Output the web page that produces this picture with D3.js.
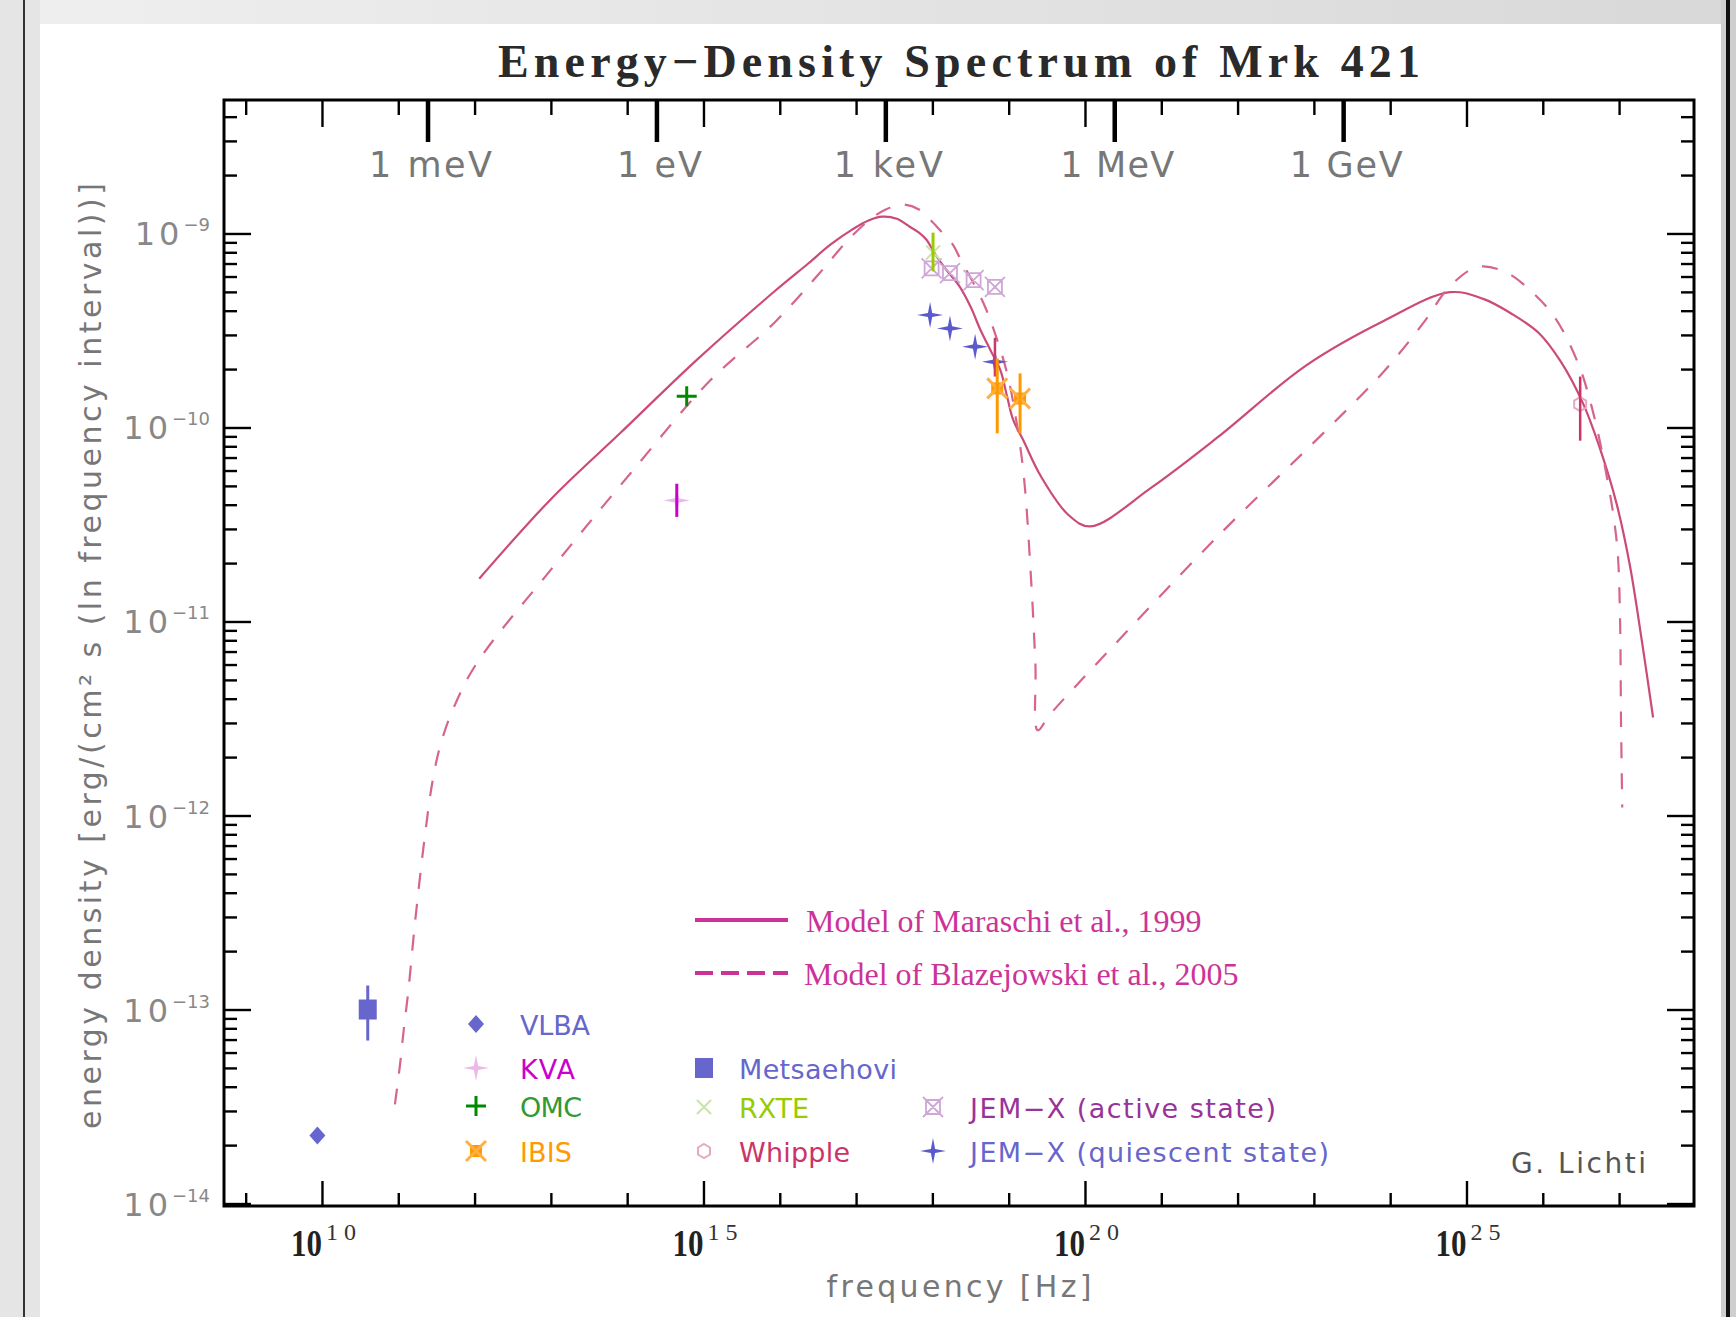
<!DOCTYPE html>
<html>
<head>
<meta charset="utf-8">
<script src="https://cdn.jsdelivr.net/npm/d3@7"></script>
<style>
  html, body { margin: 0; padding: 0; background: #fff; }
  svg { display: block; }
</style>
</head>
<body>
<svg id="chart" width="1736" height="1317"></svg>
<script>
// ---------------- data ----------------
// Model of Maraschi et al. (1999): frequency [Hz], energy density [erg/(cm^2 s)]
const maraschiNu = [1.15e12, 1.00e13, 8.05e13, 8.18e14, 8.63e15, 2.36e16, 4.60e16, 8.97e16, 1.48e17, 2.21e17,
  3.42e17, 5.11e17, 6.67e17, 8.43e17, 1.03e18, 1.26e18, 1.54e18, 2.29e18, 3.16e18, 4.27e18, 5.75e18, 7.76e18,
  9.55e18, 1.15e19, 1.55e19, 2.63e19, 6.03e19, 1.17e20, 7.41e20, 5.50e21, 7.94e22, 8.32e23, 6.10e24, 1.66e25,
  3.84e25, 8.93e25, 1.74e26, 3.40e26, 5.61e26, 9.27e26, 1.38e27, 2.00e27, 2.79e27];
const maraschiE = [1.66e-11, 4.27e-11, 9.33e-11, 2.23e-10, 5.05e-10, 7.00e-10, 8.75e-10, 1.05e-9, 1.17e-9, 1.22e-9,
  1.19e-9, 1.08e-9, 1.01e-9, 9.25e-10, 8.09e-10, 7.18e-10, 6.46e-10, 5.31e-10, 4.20e-10, 3.18e-10, 2.51e-10, 1.98e-10,
  1.44e-10, 1.09e-10, 8.61e-11, 5.62e-11, 3.55e-11, 3.09e-11, 4.90e-11, 8.91e-11, 2.09e-10, 3.55e-10, 4.98e-10, 4.60e-10,
  3.87e-10, 3.06e-10, 2.17e-10, 1.32e-10, 7.80e-11, 4.05e-11, 1.96e-11, 7.82e-12, 3.20e-12];

// Model of Blazejowski et al. (2005)
const blazNu = [9.04e10, 1.05e11, 1.19e11, 1.35e11, 1.66e11, 2.24e11, 2.82e11, 3.55e11, 5.25e11, 1.05e12,
  1.07e13, 1.10e14, 1.23e15, 8.63e15, 3.29e16, 7.59e16, 1.48e17, 2.45e17, 4.05e17, 6.67e17, 9.31e17, 1.26e18,
  1.82e18, 2.30e18, 4.68e18, 6.92e18, 9.77e18, 1.26e19, 1.58e19, 1.95e19, 2.24e19, 2.40e19, 3.47e19, 1.95e20,
  5.50e21, 1.58e23, 8.32e23, 2.69e24, 6.17e24, 1.42e25, 3.28e25, 7.57e25, 1.48e26, 2.98e26, 4.17e26, 5.45e26,
  6.88e26, 8.40e26, 9.61e26, 1.03e27, 1.06e27, 1.10e27];
const blazE = [3.24e-14, 5.13e-14, 8.13e-14, 1.23e-13, 2.82e-13, 7.94e-13, 1.51e-12, 2.29e-12, 3.55e-12, 6.03e-12,
  1.91e-11, 5.79e-11, 1.75e-10, 3.49e-10, 6.22e-10, 9.12e-10, 1.17e-9, 1.33e-9, 1.41e-9, 1.33e-9, 1.18e-9, 1.04e-9,
  8.86e-10, 7.46e-10, 4.37e-10, 2.90e-10, 1.83e-10, 1.08e-10, 5.62e-11, 1.74e-11, 6.03e-12, 2.75e-12, 3.31e-12, 6.92e-12,
  2.75e-11, 1.00e-10, 1.95e-10, 3.44e-10, 5.38e-10, 6.73e-10, 6.31e-10, 4.91e-10, 3.63e-10, 2.09e-10, 1.37e-10, 8.91e-11,
  5.62e-11, 3.55e-11, 2.24e-11, 1.02e-11, 3.11e-12, 1.10e-12];

// Measurements
const vlbaNu = [8.71e9];           const vlbaE = [2.24e-14];
const metsNu = [3.98e10];          const metsE = [1.00e-13];   const metsErr = [[6.92e-14, 1.33e-13]];
const kvaNu = [4.47e14];           const kvaE = [4.21e-11];    const kvaErr = [[3.46e-11, 5.13e-11]];
const omcNu = [6.03e14];           const omcE = [1.45e-10];
const rxteNu = [1.02e18];          const rxteE = [7.98e-10];   const rxteErr = [[6.38e-10, 1.01e-9]];
const jemActiveNu = [9.77e17, 1.70e18, 3.47e18, 6.61e18];
const jemActiveE  = [6.61e-10, 6.24e-10, 5.75e-10, 5.31e-10];
const jemQuietNu = [9.33e17, 1.70e18, 3.63e18, 6.61e18];
const jemQuietE  = [3.80e-10, 3.24e-10, 2.61e-10, 2.18e-10];
const jemQuietErr = [null, null, null, [1.83e-10, 2.90e-10]];
const ibisNu = [7.08e18, 1.41e19];
const ibisE  = [1.59e-10, 1.41e-10];
const ibisErr = [[9.33e-11, 2.27e-10], [9.33e-11, 1.90e-10]];
const whippleNu = [3.09e26];       const whippleE = [1.32e-10]; const whippleErr = [[8.55e-11, 1.83e-10]];

// Axis ticks and labels
const freqDecades = d3.range(9, 28);             // exponents of 10 Hz with a tick
const freqLabelExps = [10, 15, 20, 25];
const energyTickEV = [1e-3, 1, 1e3, 1e6, 1e9];
const energyLabels = ["1 meV", "1 eV", "1 keV", "1 MeV", "1 GeV"];
const energyLabelWidths = [123, 85, 109, 114, 113];
const densityLabelExps = [-9, -10, -11, -12, -13, -14];

// ---------------- layout ----------------
const svg = d3.select("#chart");
const L = 224, R = 1694, T = 100, B = 1206;
const x = d3.scaleLog().domain([5.20e8, 9.59e27]).range([L, R]);
const y = d3.scaleLog().domain([9.71e-15, 4.875e-9]).range([B, T]);
const HZ_PER_EV = 2.418e14;

// page chrome
const defs = svg.append("defs");
const g1 = defs.append("linearGradient").attr("id", "topband").attr("x1", 0).attr("x2", 1).attr("y1", 0).attr("y2", 0);
g1.append("stop").attr("offset", "0%").attr("stop-color", "#efefef");
g1.append("stop").attr("offset", "100%").attr("stop-color", "#d8d8d8");
svg.append("rect").attr("x", 0).attr("y", 0).attr("width", 1736).attr("height", 24).attr("fill", "url(#topband)");
svg.append("rect").attr("x", 0).attr("y", 0).attr("width", 40).attr("height", 1317).attr("fill", "#e5e5e5");
svg.append("line").attr("x1", 24).attr("x2", 24).attr("y1", 0).attr("y2", 1317).attr("stroke", "#333").attr("stroke-width", 2);
svg.append("rect").attr("x", 1721).attr("y", 0).attr("width", 15).attr("height", 1317).attr("fill", "#cfcfcf");
svg.append("line").attr("x1", 1728).attr("x2", 1728).attr("y1", 0).attr("y2", 1317).attr("stroke", "#111").attr("stroke-width", 4);

// ---------------- axes ----------------
function tickGroup(axis, tx, ty) {
  const g = svg.append("g").attr("transform", `translate(${tx},${ty})`).call(axis);
  g.select(".domain").remove();
  g.selectAll("text").remove();
  g.selectAll("line").attr("stroke", "#000").attr("stroke-width", 2.4);
  return g;
}
const minorNu = freqDecades.filter(e => e % 5 !== 0).map(e => 10 ** e);
const majorNu = freqDecades.filter(e => e % 5 === 0).map(e => 10 ** e);
tickGroup(d3.axisBottom(x).tickValues(minorNu).tickSize(-13).tickSizeOuter(0), 0, B);
tickGroup(d3.axisBottom(x).tickValues(majorNu).tickSize(-25).tickSizeOuter(0), 0, B);
tickGroup(d3.axisTop(x).tickValues(minorNu).tickSize(-15).tickSizeOuter(0), 0, T);
tickGroup(d3.axisTop(x).tickValues(majorNu).tickSize(-27).tickSizeOuter(0), 0, T);
// energy markers on the top axis
tickGroup(d3.axisTop(x).tickValues(energyTickEV.map(e => e * HZ_PER_EV)).tickSize(-42).tickSizeOuter(0), 0, T)
  .selectAll("line").attr("stroke-width", 4.5);

const yMinor = [], yMajor = [];
for (let p = -15; p <= -9; p++) {
  for (let k = 1; k <= 9; k++) {
    const v = k * 10 ** p;
    if (v < y.domain()[0] || v > y.domain()[1]) continue;
    (k === 1 ? yMajor : yMinor).push(v);
  }
}
tickGroup(d3.axisLeft(y).tickValues(yMinor).tickSize(-13).tickSizeOuter(0), L, 0);
tickGroup(d3.axisLeft(y).tickValues(yMajor).tickSize(-27).tickSizeOuter(0), L, 0);
tickGroup(d3.axisRight(y).tickValues(yMinor).tickSize(-13).tickSizeOuter(0), R, 0);
tickGroup(d3.axisRight(y).tickValues(yMajor).tickSize(-27).tickSizeOuter(0), R, 0);

svg.append("rect").attr("x", L).attr("y", T).attr("width", R - L).attr("height", B - T)
  .attr("fill", "none").attr("stroke", "#000").attr("stroke-width", 3);

// ---------------- labels ----------------
const SANS = "'DejaVu Sans', 'Liberation Sans', sans-serif";
const SERIF = "'Liberation Serif', 'DejaVu Serif', serif";
const GRAY = "#777";

svg.append("text").attr("x", 959).attr("y", 77).attr("text-anchor", "middle")
  .attr("font-family", SERIF).attr("font-size", 46).attr("font-weight", "bold").attr("fill", "#2a2a2a")
  .attr("textLength", 922).attr("lengthAdjust", "spacing")
  .text("Energy\u2212Density Spectrum of Mrk 421");

// energy labels (top)
energyTickEV.forEach((ev, i) => {
  svg.append("text").attr("x", x(ev * HZ_PER_EV) + 3).attr("y", 177).attr("text-anchor", "middle")
    .attr("font-family", SANS).attr("font-size", 35).attr("fill", GRAY)
    .attr("textLength", energyLabelWidths[i]).attr("lengthAdjust", "spacing")
    .text(energyLabels[i]);
});

// frequency labels (bottom)
freqLabelExps.forEach(e => {
  const cx = x(10 ** e);
  svg.append("text").attr("x", cx).attr("y", 1256).attr("text-anchor", "end")
    .attr("font-family", SERIF).attr("font-size", 38).attr("font-weight", "bold").attr("fill", "#222")
    .attr("textLength", 31).attr("lengthAdjust", "spacingAndGlyphs").text("10");
  svg.append("text").attr("x", cx + 4).attr("y", 1240).attr("text-anchor", "start")
    .attr("font-family", SERIF).attr("font-size", 24).attr("fill", "#333")
    .attr("textLength", 30).attr("lengthAdjust", "spacing").text(String(e));
});

// energy density labels (left)
densityLabelExps.forEach(e => {
  const cy = y(10 ** e);
  const t = svg.append("text").attr("x", 210).attr("y", cy + 12).attr("text-anchor", "end")
    .attr("font-family", SANS).attr("fill", "#888");
  t.append("tspan").attr("font-size", 32).attr("letter-spacing", 4).text("10");
  t.append("tspan").attr("font-size", 18).attr("dy", -14).text("\u2212" + Math.abs(e));
});

// axis titles
svg.append("text").attr("transform", "translate(101,656) rotate(-90)").attr("text-anchor", "middle")
  .attr("font-family", SANS).attr("font-size", 30).attr("fill", GRAY)
  .attr("textLength", 946).attr("lengthAdjust", "spacing")
  .text("energy density [erg/(cm\u00B2 s (ln frequency interval))]");
svg.append("text").attr("x", 959).attr("y", 1297).attr("text-anchor", "middle")
  .attr("font-family", SANS).attr("font-size", 30).attr("fill", GRAY)
  .attr("textLength", 265).attr("lengthAdjust", "spacing")
  .text("frequency [Hz]");

// ---------------- model curves ----------------
const line = d3.line().x(d => x(d[0])).y(d => y(d[1])).curve(d3.curveCatmullRom.alpha(0.5));
const plot = svg.append("g");
plot.append("path").datum(d3.zip(maraschiNu, maraschiE)).attr("d", line)
  .attr("fill", "none").attr("stroke", "#cc4a7a").attr("stroke-width", 2.2);
plot.append("path").datum(d3.zip(blazNu, blazE)).attr("d", line)
  .attr("fill", "none").attr("stroke", "#d6648e").attr("stroke-width", 2.2)
  .attr("stroke-dasharray", "16,15");

// ---------------- markers ----------------
function star4(r, ri) {
  const pts = [];
  for (let i = 0; i < 8; i++) {
    const a = i * Math.PI / 4 - Math.PI / 2;
    const rr = i % 2 === 0 ? r : ri;
    pts.push([rr * Math.cos(a), rr * Math.sin(a)]);
  }
  return "M" + pts.map(p => p.join(",")).join("L") + "Z";
}
const markers = {
  vlba: g => g.append("path").attr("d", "M0,-9L8,0L0,9L-8,0Z").attr("fill", "#6666cc"),
  mets: g => g.append("rect").attr("x", -9).attr("y", -10).attr("width", 18).attr("height", 20).attr("fill", "#6666cc"),
  kva: g => g.append("path").attr("d", star4(13, 3)).attr("fill", "#eab8ea"),
  omc: g => g.append("path").attr("d", "M-10,0H10M0,-10V10").attr("stroke", "#008a00").attr("stroke-width", 3),
  rxte: g => g.append("path").attr("d", "M-7,-7L7,7M-7,7L7,-7").attr("stroke", "#c8e4a8").attr("stroke-width", 2),
  whip: g => g.append("path").attr("d", "M0,-7L6,-3.5L6,3.5L0,7L-6,3.5L-6,-3.5Z").attr("fill", "none").attr("stroke", "#e6a8c4").attr("stroke-width", 2),
  jemA: g => g.append("path").attr("d", "M-7,-7H7V7H-7ZM-7,-7L7,7M7,-7L-7,7M-10,-10L-7,-7M10,-10L7,-7M-10,10L-7,7M10,10L7,7")
    .attr("fill", "none").attr("stroke", "#cfa6d8").attr("stroke-width", 1.8),
  jemQ: g => g.append("path").attr("d", star4(13, 3)).attr("fill", "#5a5acc"),
  ibis: g => {
    g.append("rect").attr("x", -6).attr("y", -6).attr("width", 12).attr("height", 12).attr("fill", "#ff9900");
    g.append("path").attr("d", "M-10,-10L10,10M-10,10L10,-10").attr("stroke", "#ffb040").attr("stroke-width", 3);
  }
};

function errorBars(nu, err, color, width) {
  nu.forEach((n, i) => {
    if (!err[i]) return;
    plot.append("line").attr("x1", x(n)).attr("x2", x(n)).attr("y1", y(err[i][0])).attr("y2", y(err[i][1]))
      .attr("stroke", color).attr("stroke-width", width);
  });
}
function points(nu, e, marker) {
  nu.forEach((n, i) => {
    const g = plot.append("g").attr("transform", `translate(${x(n)},${y(e[i])})`);
    markers[marker](g);
  });
}

errorBars(metsNu, metsErr, "#6666cc", 3);
points(metsNu, metsE, "mets");
points(vlbaNu, vlbaE, "vlba");
points(kvaNu, kvaE, "kva");
errorBars(kvaNu, kvaErr, "#cc00cc", 3);
points(omcNu, omcE, "omc");
points(jemActiveNu, jemActiveE, "jemA");
points(rxteNu, rxteE, "rxte");
errorBars(rxteNu, rxteErr, "#99cc00", 3);
points(jemQuietNu, jemQuietE, "jemQ");
errorBars(jemQuietNu, jemQuietErr, "#c83a6a", 2.5);
points(ibisNu, ibisE, "ibis");
errorBars(ibisNu, ibisErr, "#ff9900", 3);
points(whippleNu, whippleE, "whip");
errorBars(whippleNu, whippleErr, "#cc3366", 2.5);

// ---------------- legends ----------------
const modelLegend = [
  { label: "Model of Maraschi et al., 1999", dash: null, y: 920, tx: 806 },
  { label: "Model of Blazejowski et al., 2005", dash: "18,8", y: 973, tx: 804 }
];
modelLegend.forEach(m => {
  svg.append("line").attr("x1", 695).attr("x2", 788).attr("y1", m.y).attr("y2", m.y)
    .attr("stroke", "#cc3399").attr("stroke-width", 4).attr("stroke-dasharray", m.dash);
  svg.append("text").attr("x", m.tx).attr("y", m.y + 12).attr("font-family", SERIF)
    .attr("font-size", 32).attr("fill", "#cc3399").text(m.label);
});

const dataLegend = [
  { m: "vlba", label: "VLBA", color: "#6666cc", x: 476, y: 1024, tx: 520, w: 70 },
  { m: "kva", label: "KVA", color: "#cc00cc", x: 476, y: 1068, tx: 520, w: 55 },
  { m: "omc", label: "OMC", color: "#339933", x: 476, y: 1106, tx: 520, w: 62 },
  { m: "ibis", label: "IBIS", color: "#ff9900", x: 476, y: 1151, tx: 520, w: 52 },
  { m: "mets", label: "Metsaehovi", color: "#6666cc", x: 704, y: 1068, tx: 739, w: 158 },
  { m: "rxte", label: "RXTE", color: "#99cc00", x: 704, y: 1107, tx: 739, w: 70 },
  { m: "whip", label: "Whipple", color: "#cc3366", x: 704, y: 1151, tx: 739, w: 111 },
  { m: "jemA", label: "JEM\u2212X (active state)", color: "#993399", x: 933, y: 1107, tx: 970, w: 306 },
  { m: "jemQ", label: "JEM\u2212X (quiescent state)", color: "#6666cc", x: 933, y: 1151, tx: 970, w: 359 }
];
dataLegend.forEach(d => {
  const g = svg.append("g").attr("transform", `translate(${d.x},${d.y})`);
  markers[d.m](g);
  svg.append("text").attr("x", d.tx).attr("y", d.y + 11).attr("font-family", SANS)
    .attr("font-size", 27).attr("fill", d.color)
    .attr("textLength", d.w).attr("lengthAdjust", "spacing").text(d.label);
});

svg.append("text").attr("x", 1511).attr("y", 1173).attr("font-family", SANS)
  .attr("font-size", 28).attr("fill", "#555").attr("textLength", 135).attr("lengthAdjust", "spacing")
  .text("G. Lichti");
</script>
</body>
</html>
